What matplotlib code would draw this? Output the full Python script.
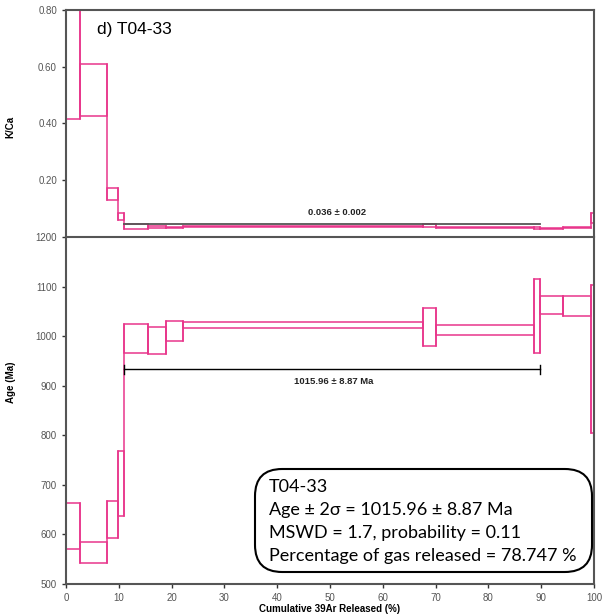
import matplotlib
matplotlib.use("Agg")
import matplotlib.pyplot as plt
from matplotlib.patches import Rectangle, FancyBboxPatch

# Step boundaries (cumulative 39Ar released, %)
x_left  = [0.0, 2.65, 7.7, 9.9, 11.0, 15.6, 18.9, 22.2, 67.6, 70.0, 88.7, 89.8, 94.2, 99.5]
x_right = [2.65, 7.7, 9.9, 11.0, 15.6, 18.9, 22.2, 67.6, 70.0, 88.7, 89.8, 94.2, 99.5, 100.0]

# Age envelopes (Ma, +/- 2 sigma)
age_low  = [571, 542, 592, 638, 965, 964, 990, 1016, 981, 1003, 967, 1044, 1040, 805]
age_high = [664, 584, 667, 769, 1024, 1019, 1030, 1029, 1056, 1023, 1115, 1080, 1081, 1104]

# K/Ca envelopes
kca_low  = [0.416, 0.428, 0.131, 0.060, 0.028, 0.033, 0.030, 0.034, 0.036, 0.033, 0.027, 0.029, 0.031, 0.050]
kca_high = [1.200, 0.611, 0.172, 0.084, 0.045, 0.038, 0.035, 0.038, 0.045, 0.037, 0.036, 0.032, 0.034, 0.084]

plateau_start, plateau_end = 11.0, 89.8
plateau_age_line = 933
plateau_kca_line = 0.045
plateau_age_label = "1015.96 ± 8.87 Ma"
plateau_kca_label = "0.036 ± 0.002"

x_ticks = list(range(0, 101, 10))
age_ticks = [500, 600, 700, 800, 900, 1000, 1100, 1200]
kca_ticks = [0.20, 0.40, 0.60, 0.80]

box_lines = ["T04-33",
             "Age ± 2σ = 1015.96 ± 8.87 Ma",
             "MSWD = 1.7, probability = 0.11",
             "Percentage of gas released = 78.747 %"]

PINK = "#E8368B"
SPINE = "#555555"


def draw_steps(ax, lows, highs):
    for xl, xr, lo, hi in zip(x_left, x_right, lows, highs):
        ax.add_patch(Rectangle((xl, lo), xr-xl, hi-lo, fill=False,
                               edgecolor=PINK, linewidth=1.1))
    # vertical connectors between consecutive steps
    for i in range(len(x_right)-1):
        xb = x_right[i]
        lo = min(lows[i], lows[i+1])
        hi = max(highs[i], highs[i+1])
        ax.plot([xb, xb], [lo, hi], color=PINK, lw=1.1)


fig = plt.figure(figsize=(6.03, 6.14), dpi=100)
L, R = 66/603, 594/603
ax_top = fig.add_axes([L, 1-237/614, R-L, (237-10)/614])
ax_bot = fig.add_axes([L, 1-584/614, R-L, (584-237)/614])

for ax in (ax_top, ax_bot):
    ax.set_xlim(0, 100)
    for s in ax.spines.values():
        s.set_color(SPINE)
        s.set_linewidth(1.5)
    ax.tick_params(direction='out', length=3, width=1, color='#333333',
                   labelsize=7, labelcolor='#555555')

# Top panel: K/Ca
draw_steps(ax_top, kca_low, kca_high)
ax_top.plot([plateau_start, plateau_end], [plateau_kca_line]*2, color=SPINE, lw=1.3)
ax_top.text((plateau_start+plateau_end)/2 + 0.9, 0.087, plateau_kca_label,
            ha='center', va='center', fontsize=6.8, fontweight='bold',
            family='Liberation Sans', color='#222222')
ax_top.set_ylim(0, 0.80)
ax_top.set_yticks(kca_ticks)
ax_top.set_yticklabels([f"{t:.2f}" for t in kca_ticks], family='Liberation Sans')
ax_top.set_xticks(x_ticks)
ax_top.tick_params(axis='x', bottom=False, labelbottom=False)
ax_top.spines['bottom'].set_visible(False)
ax_top.set_ylabel("K/Ca", fontsize=7, fontweight='bold', family='Liberation Sans')
ax_top.yaxis.set_label_coords(-0.095, 0.485)
ax_top.text(0.058, 0.915, "d) T04-33", transform=ax_top.transAxes,
            fontsize=12.5, family='Liberation Sans', va='center', ha='left')

# Bottom panel: Age
draw_steps(ax_bot, age_low, age_high)
ax_bot.plot([plateau_start, plateau_end], [plateau_age_line]*2, color='black', lw=1.0)
for xe in (plateau_start, plateau_end):
    ax_bot.plot([xe, xe], [plateau_age_line-9, plateau_age_line+9], color='black', lw=1.0)
ax_bot.text((plateau_start+plateau_end)/2 + 0.3, 908, plateau_age_label,
            ha='center', va='center', fontsize=6.8, fontweight='bold',
            family='Liberation Sans', color='#222222')
ax_bot.set_ylim(500, 1200)
ax_bot.set_yticks(age_ticks)
ax_bot.set_yticklabels([str(t) for t in age_ticks], family='Liberation Sans')
ax_bot.set_xticks(x_ticks)
ax_bot.set_xticklabels([str(t) for t in x_ticks], family='Liberation Sans')
ax_bot.set_ylabel("Age (Ma)", fontsize=7, fontweight='bold', family='Liberation Sans')
ax_bot.yaxis.set_label_coords(-0.095, 0.58)
ax_bot.set_xlabel("Cumulative 39Ar Released (%)", fontsize=7, fontweight='bold',
                  family='Liberation Sans', labelpad=1)

# Rounded result box
bx0, bx1 = 255/603, 592/603
by0, by1 = 1-572/614, 1-469/614
box = FancyBboxPatch((bx0, by0), bx1-bx0, by1-by0,
                     boxstyle="round,pad=0,rounding_size=0.045",
                     mutation_aspect=603/614, transform=fig.transFigure,
                     facecolor='white', edgecolor='black', linewidth=1.5, zorder=5)
fig.add_artist(box)
baselines = [492, 515, 538, 561]
for txt, yb in zip(box_lines, baselines):
    fig.text(269/603, 1-yb/614, txt, fontsize=13, family='Lato',
             va='baseline', ha='left', zorder=6)

fig.savefig("out.png", dpi=100)
